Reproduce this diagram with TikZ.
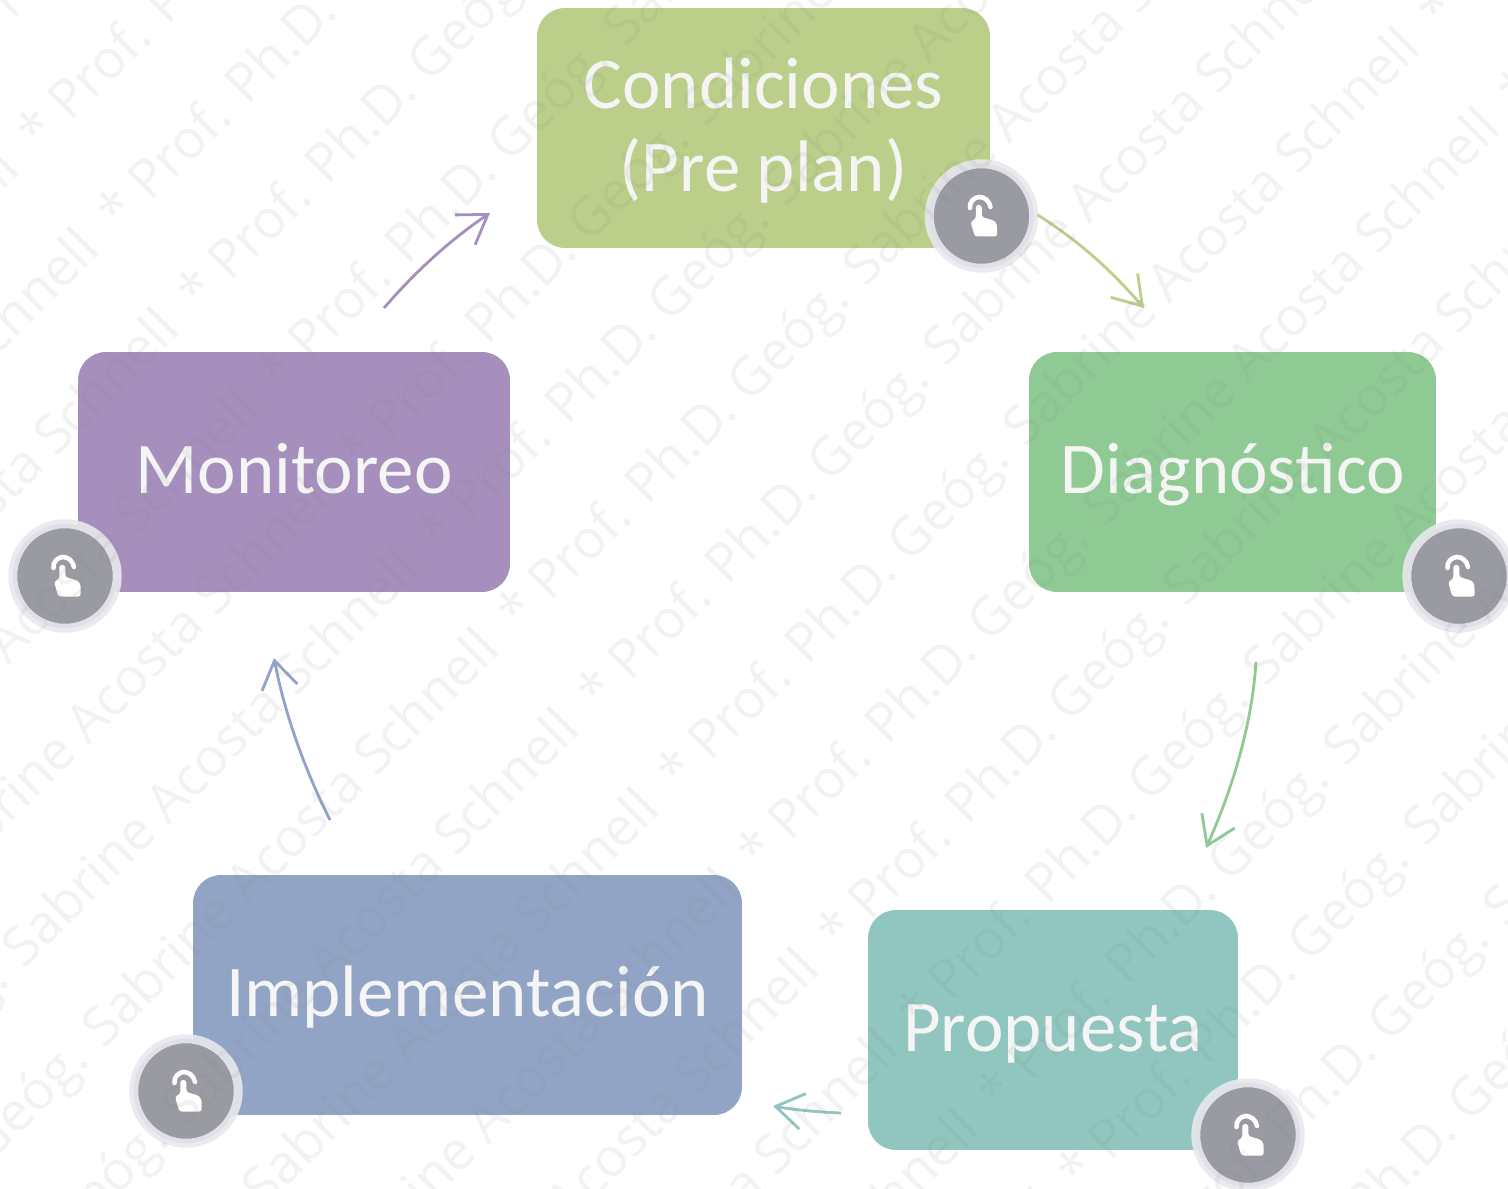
\documentclass[tikz,border=0pt]{standalone}
\usepackage{fontspec}
\setmainfont{Carlito}
\newfontfamily\markfont{Open Sans}
\usepackage{xcolor}
\usetikzlibrary{arrows.meta}
\definecolor{colCond}{HTML}{BBCF8A}
\definecolor{colDiag}{HTML}{8FCA94}
\definecolor{colProp}{HTML}{90C6BF}
\definecolor{colImpl}{HTML}{92A4C5}
\definecolor{colMoni}{HTML}{A68FBD}
\definecolor{colBtn}{HTML}{9A9AA2}
\definecolor{colRing}{HTML}{E8E8EF}
\tikzset{%
	stagebox/.style  = {rectangle, rounded corners=0.56cm, minimum height=4.8cm, inner sep=0pt, outer sep=0pt, text=white!96!black, align=center, font=\fontsize{41.5}{47}\selectfont},
	oneline/.style   = {text height=30pt, text depth=6pt},
	touchbtn/.style  = {circle, fill=colBtn, draw=colRing, draw opacity=0.9, line width=5.1pt, minimum size=2.09cm, inner sep=0pt, outer sep=0pt},
	cyclearrow/.style = {line width=1.6pt, -{Straight Barb[length=0.55cm,width=0.72cm,line width=1.6pt]}},
	markword/.style  = {anchor=west, rotate=45, text=gray, opacity=0.1, inner sep=0pt, font=\markfont\fontsize{30.5}{33}\selectfont},
	handicon/.pic    = {
		\draw[white, line width=2.6pt, line cap=round] (-11.5,-8) .. controls (-12.5,-14) and (-7,-19) .. (-2,-19) .. controls (3,-19) and (8,-15) .. (9,-9);
		\fill[white, rounded corners=1.5pt] (-11,5.5) -- (-5.7,3) -- (-5.7,-11) -- (0.3,-11) -- (0.3,1) -- (13,4.7) -- (15.7,9) -- (15.7,20.5) -- (-6.7,20.5) -- cycle;
	},
}
\begin{document}
\begin{tikzpicture}[x=0.02cm,y=-0.02cm]
	\useasboundingbox (0,0) rectangle (1508,1189);
	\fill[white] (0,0) rectangle (1508,1189);

	\node[stagebox, fill=colCond, minimum width=9.06cm] (condiciones) at (763.5,128) {\rule{0pt}{32pt}Condiciones\\(Pre plan)};
	\node[stagebox, oneline, fill=colDiag, minimum width=8.14cm] (diagnostico) at (1232.5,472) {Diagnóstico};
	\node[stagebox, oneline, fill=colProp, minimum width=7.40cm] (propuesta) at (1053,1030) {Propuesta};
	\node[stagebox, oneline, fill=colImpl, minimum width=10.98cm] (implementacion) at (467.5,995) {Implementación};
	\node[stagebox, oneline, fill=colMoni, minimum width=8.64cm] (monitoreo) at (294,472) {Monitoreo};

	% touch buttons
	\node[touchbtn] (btnCond) at (981.5,216) {};
	\node[touchbtn] (btnDiag) at (1459,576) {};
	\node[touchbtn] (btnProp) at (1248,1135) {};
	\node[touchbtn] (btnImpl) at (186,1091) {};
	\node[touchbtn] (btnMoni) at (65,576) {};
	\foreach \btn in {btnCond,btnDiag,btnProp,btnImpl,btnMoni}
		\pic at (\btn) {handicon};

	% arrow ends
	\coordinate (condEnd) at (1144,308);
	\coordinate (diagStart) at (1256,662);
	\coordinate (diagEnd) at (1206,848);
	\coordinate (propStart) at (841,1113);
	\coordinate (propEnd) at (773,1106);
	\coordinate (implStart) at (330,820);
	\coordinate (implEnd) at (274,658);
	\coordinate (moniStart) at (384,308);
	\coordinate (moniEnd) at (490,213);

	\draw[cyclearrow, colCond, shorten <=2.6pt] (btnCond.4) .. controls (1085,245) and (1115,275) .. (condEnd);
	\draw[cyclearrow, colDiag] (diagStart) .. controls (1252,725) and (1232,790) .. (diagEnd);
	\draw[cyclearrow, colProp] (propStart) .. controls (818,1112) and (795,1110) .. (propEnd);
	\draw[cyclearrow, colImpl] (implStart) .. controls (305,770) and (285,715) .. (implEnd);
	\draw[cyclearrow, colMoni] (moniStart) .. controls (415,272) and (450,240) .. (moniEnd);

	% watermark
	\begin{scope}
	\clip (0,0) rectangle (1508,1189);
	\foreach \r in {-3,...,15}
		\foreach \m in {-1,0,1}
			\node[markword] (mark\r\m) at ({110+80*\r+761*\m},{224+80*\r-761*\m}) {* Prof. Ph.D. Geóg. Sabrine Acosta Schnell};
	\end{scope}
\end{tikzpicture}
\end{document}
